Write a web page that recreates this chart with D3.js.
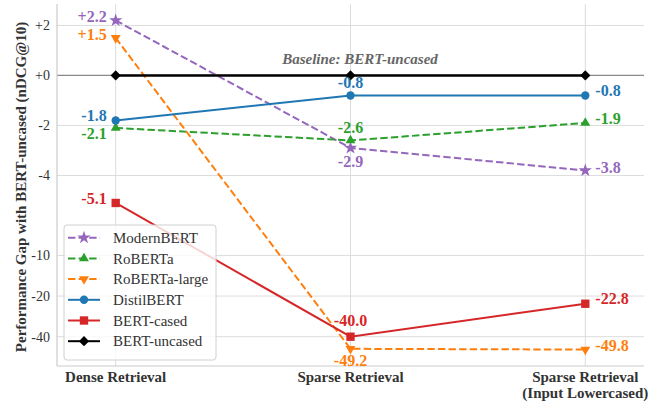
<!DOCTYPE html>
<html>
<head>
<meta charset="utf-8">
<script src="https://cdn.jsdelivr.net/npm/d3@7"></script>
<style>
  body { margin: 0; background: #fff; }
  text { font-family: "Liberation Serif", "Times New Roman", serif; }
</style>
</head>
<body>
<div id="chart"></div>
<script>
const categories = ["Dense Retrieval", "Sparse Retrieval", "Sparse Retrieval\n(Input Lowercased)"];
const models = ["ModernBERT", "RoBERTa", "RoBERTa-large", "DistilBERT", "BERT-cased", "BERT-uncased"];
const modernbert = [2.2, -2.9, -3.8];
const roberta = [-2.1, -2.6, -1.9];
const robertaLarge = [1.5, -49.2, -49.8];
const distilbert = [-1.8, -0.8, -0.8];
const bertCased = [-5.1, -40.0, -22.8];
const bertUncased = [0, 0, 0];
const yTicks = [2, 0, -2, -4, -10, -20, -40];
const yTickLabels = ["+2", "+0", "-2", "-4", "-10", "-20", "-40"];

const series = [
    { name: models[0], values: modernbert, color: "#9467bd", dash: "7.4,3.2", marker: "star" },
    { name: models[1], values: roberta, color: "#2ca02c", dash: "7.4,3.2", marker: "up" },
    { name: models[2], values: robertaLarge, color: "#ff7f0e", dash: "7.4,3.2", marker: "down" },
    { name: models[3], values: distilbert, color: "#1f77b4", dash: null, marker: "circle" },
    { name: models[4], values: bertCased, color: "#d62728", dash: null, marker: "square" },
    { name: models[5], values: bertUncased, color: "#000000", dash: null, marker: "diamond" }
];

// label placement per point: [anchor, dx, dy]
const labelPos = {
    "ModernBERT": [["end", -9, -4], ["middle", 0, 13], ["start", 10, -3]],
    "RoBERTa": [["end", -9, 5], ["middle", 0, -13], ["start", 10, -5]],
    "RoBERTa-large": [["end", -9, -4], ["middle", 0, 12], ["start", 10, -4]],
    "DistilBERT": [["end", -9, -5], ["middle", 0, -13], ["start", 10, -5]],
    "BERT-cased": [["end", -9, -5], ["middle", 0, -16], ["start", 10, -5]]
};

const width = 662, height = 403;
const margin = { top: 4, right: 18, bottom: 37, left: 57 };

// matplotlib-style symlog (linthresh 6, linscale 1)
const linthresh = 6, linAdj = 1 / (1 - 1 / 10);
function symlog(v) {
    const a = Math.abs(v);
    if (a <= linthresh) return v * linAdj;
    return Math.sign(v) * linthresh * (linAdj + Math.log10(a / linthresh));
}

const allVals = series.flatMap(s => s.values).map(symlog);
const tMin = d3.min(allVals), tMax = d3.max(allVals);
const pad = (tMax - tMin) * 0.05;

const x = d3.scaleLinear()
    .domain([-0.25, 2.25])
    .range([margin.left, width - margin.right]);

const yT = d3.scaleLinear()
    .domain([tMin - pad, tMax + pad])
    .range([height - margin.bottom, margin.top]);
const y = v => yT(symlog(v));

const svg = d3.select("#chart").append("svg")
    .attr("width", width)
    .attr("height", height);

// grid
svg.append("g").selectAll("line")
    .data(yTicks)
    .enter().append("line")
    .attr("x1", margin.left).attr("x2", width - margin.right)
    .attr("y1", d => y(d)).attr("y2", d => y(d))
    .attr("stroke", "#dcdcdc").attr("stroke-width", 1);

svg.append("g").selectAll("line")
    .data(categories)
    .enter().append("line")
    .attr("x1", (d, i) => x(i)).attr("x2", (d, i) => x(i))
    .attr("y1", margin.top).attr("y2", height - margin.bottom)
    .attr("stroke", "#dcdcdc").attr("stroke-width", 1);

// zero reference line
svg.append("line")
    .attr("x1", margin.left).attr("x2", width - margin.right)
    .attr("y1", y(0)).attr("y2", y(0))
    .attr("stroke", "#8a8a8a").attr("stroke-width", 1.2);

// spines
svg.append("line")
    .attr("x1", margin.left).attr("x2", margin.left)
    .attr("y1", margin.top).attr("y2", height - margin.bottom)
    .attr("stroke", "#cccccc").attr("stroke-width", 1.2);
svg.append("line")
    .attr("x1", margin.left).attr("x2", width - margin.right)
    .attr("y1", height - margin.bottom).attr("y2", height - margin.bottom)
    .attr("stroke", "#cccccc").attr("stroke-width", 1.2);

// y tick labels
svg.append("g").selectAll("text")
    .data(yTicks)
    .enter().append("text")
    .attr("x", margin.left - 7)
    .attr("y", d => y(d))
    .attr("dy", "0.35em")
    .attr("text-anchor", "end")
    .style("font-size", "14px")
    .style("fill", "#333")
    .text((d, i) => yTickLabels[i]);

// x tick labels
categories.forEach((c, i) => {
    const t = svg.append("text")
        .attr("x", x(i))
        .attr("y", 382)
        .attr("text-anchor", "middle")
        .style("font-size", "15px")
        .style("font-weight", "bold")
        .style("fill", "#333");
    c.split("\n").forEach((line, j) => {
        t.append("tspan").attr("x", x(i)).attr("dy", j === 0 ? 0 : 16).text(line);
    });
});

// y axis title
svg.append("text")
    .attr("transform", `translate(26,${(margin.top + height - margin.bottom) / 2 + 2}) rotate(-90)`)
    .attr("text-anchor", "middle")
    .style("font-size", "15px")
    .style("font-weight", "bold")
    .style("fill", "#333")
    .text("Performance Gap with BERT-uncased (nDCG@10)");

function markerPath(type) {
    if (type === "star") return d3.symbol(d3.symbolStar, 55)();
    if (type === "up" || type === "down") return d3.symbol(d3.symbolTriangle, 42)();
    if (type === "circle") return d3.symbol(d3.symbolCircle, 55)();
    if (type === "square") return d3.symbol(d3.symbolSquare, 70)();
    return d3.symbol(d3.symbolSquare, 52)();
}
function markerRot(type) {
    if (type === "down") return 180;
    if (type === "diamond") return 45;
    return 0;
}

const line = d3.line()
    .x((d, i) => x(i))
    .y(d => y(d));

// lines and markers
series.forEach(s => {
    const g = svg.append("g");
    g.append("path")
        .datum(s.values)
        .attr("d", line)
        .attr("fill", "none")
        .attr("stroke", s.color)
        .attr("stroke-width", s.name === "BERT-uncased" ? 2.4 : 2)
        .attr("stroke-dasharray", s.dash);
    g.selectAll("path.m")
        .data(s.values)
        .enter().append("path")
        .attr("class", "m")
        .attr("d", markerPath(s.marker))
        .attr("transform", (d, i) => `translate(${x(i)},${y(d)}) rotate(${markerRot(s.marker)})`)
        .attr("fill", s.color);
});

// value labels
series.forEach(s => {
    const pos = labelPos[s.name];
    if (!pos) return;
    svg.append("g").selectAll("text")
        .data(s.values)
        .enter().append("text")
        .attr("x", (d, i) => x(i) + pos[i][1])
        .attr("y", (d, i) => y(d) + pos[i][2])
        .attr("dy", "0.35em")
        .attr("text-anchor", (d, i) => pos[i][0])
        .style("font-size", "16px")
        .style("font-weight", "bold")
        .style("fill", s.color)
        .text(d => (d > 0 ? "+" : "") + d.toFixed(1));
});

// baseline annotation
svg.append("text")
    .attr("x", 360)
    .attr("y", y(0) - 17)
    .attr("dy", "0.35em")
    .attr("text-anchor", "middle")
    .style("font-size", "15px")
    .style("font-weight", "bold")
    .style("font-style", "italic")
    .style("fill", "#666")
    .text("Baseline: BERT-uncased");

// legend
const legend = svg.append("g").attr("transform", "translate(64,225)");
legend.append("rect")
    .attr("width", 152).attr("height", 135)
    .attr("rx", 3)
    .attr("fill", "#fff").attr("fill-opacity", 0.8)
    .attr("stroke", "#d0d0d0");
series.forEach((s, i) => {
    const ly = 12.7 + i * 20.7;
    const item = legend.append("g");
    item.append("line")
        .attr("x1", 4).attr("x2", 36)
        .attr("y1", ly).attr("y2", ly)
        .attr("stroke", s.color)
        .attr("stroke-width", 2)
        .attr("stroke-dasharray", s.dash);
    item.append("path")
        .attr("d", markerPath(s.marker))
        .attr("transform", `translate(20,${ly}) rotate(${markerRot(s.marker)})`)
        .attr("fill", s.color);
    item.append("text")
        .attr("x", 49).attr("y", ly)
        .attr("dy", "0.35em")
        .style("font-size", "15px")
        .style("fill", "#333")
        .text(s.name);
});
</script>
</body>
</html>
